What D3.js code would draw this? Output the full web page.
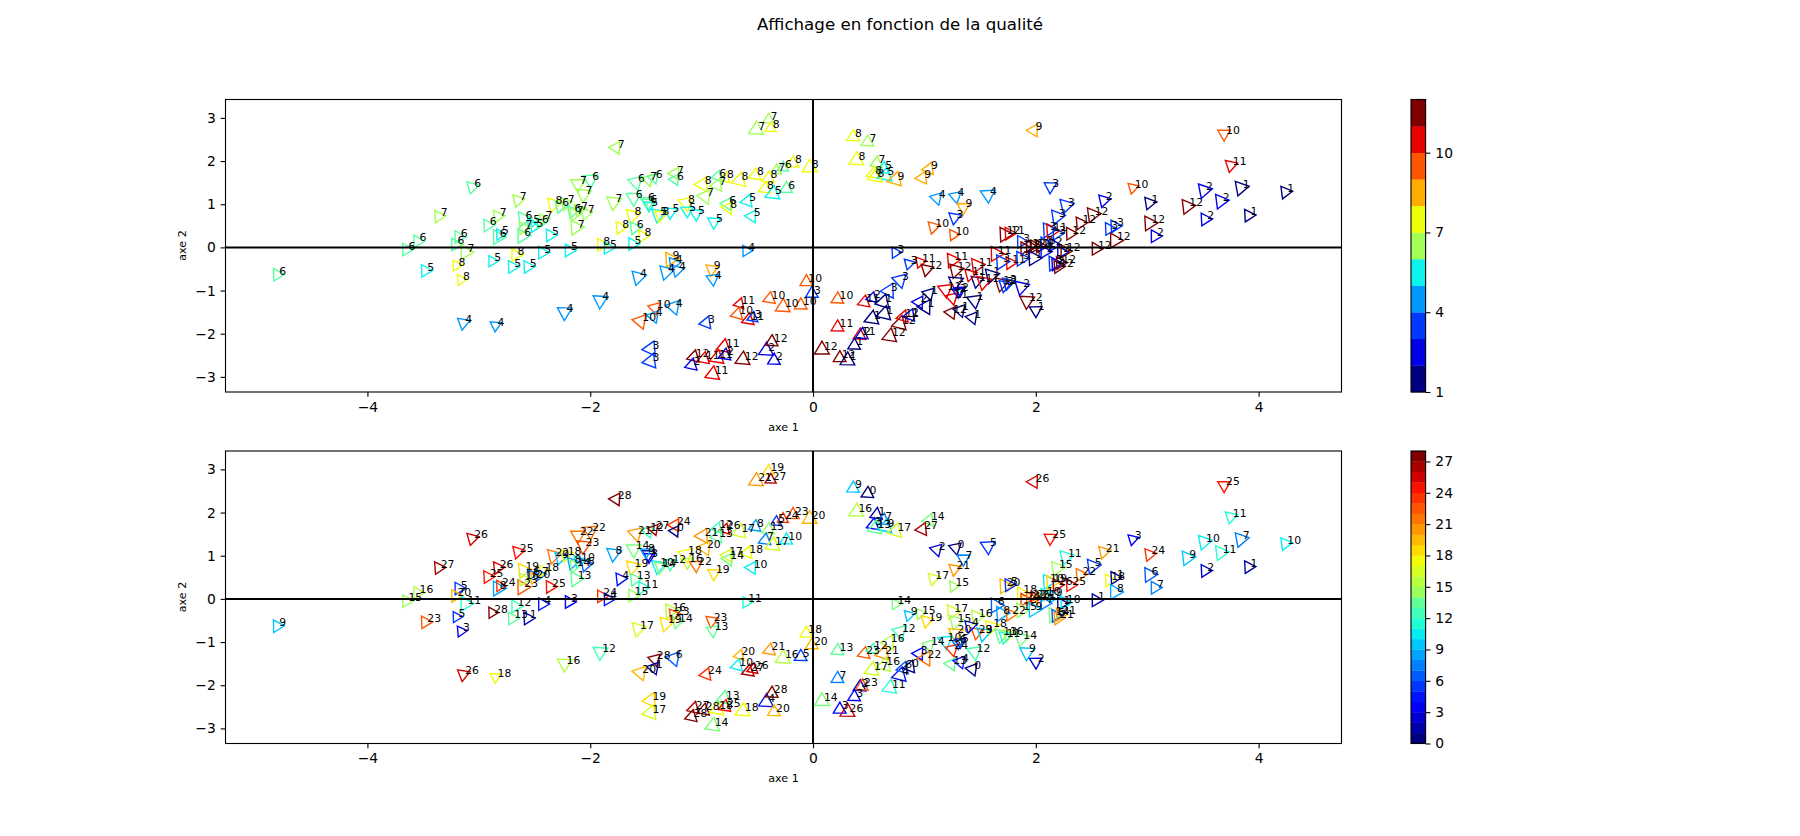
<!DOCTYPE html>
<html lang="fr">
<head>
    <meta charset="UTF-8">
    <title>Affichage en fonction de la qualité</title>
    <script src="https://cdn.jsdelivr.net/npm/d3@7"></script>
    <style>
        html, body { margin: 0; padding: 0; background: #fff; }
        svg { display: block; }
        text { font-family: "DejaVu Sans", sans-serif; fill: #000; }
        .tick text { font-size: 13.89px; }
        .tick line { stroke: #000; stroke-width: 1.11px; }
        .frame { fill: none; stroke: #000; stroke-width: 1.11px; }
        .zero { stroke: #000; stroke-width: 2px; }
        .marker { fill: none; stroke-width: 1.39px; }
        .label { font-size: 10.8px; }
        .axis-title { font-size: 11.1px; }
    </style>
</head>
<body>
    <script>
        // every row below holds 10 individuals, same order in all the arrays
        const axis1 = [
            -4.81,-3.65,-3.55,-3.48,-3.36,-3.06,-3.18,-3.21,-3.12,-3.20,
            -3.16,-3.14,-2.85,-2.88,-2.70,-2.92,-2.83,-2.83,-2.81,-2.65,
            -2.56,-2.67,-2.43,-2.19,-1.90,-1.84,-2.36,-2.60,-2.53,-2.42,
            -2.50,-2.61,-2.60,-2.45,-0.40,-0.51,-0.38,-1.77,-0.27,-0.33,
            -0.18,-0.03,-0.40,-0.52,-0.66,-0.43,-0.36,-0.24,-0.79,-0.86,
            -0.86,-0.99,-0.97,-0.77,-0.76,-0.59,-0.55,-0.89,-1.14,-1.13,
            -1.05,-1.28,-1.39,-1.37,-1.48,-1.47,-1.50,-1.61,-1.79,-1.62,
            -1.60,-1.53,-1.62,-1.73,-1.59,-1.48,-1.43,-1.24,-1.24,-2.11,
            -2.00,-2.06,-2.33,-2.27,-2.22,-2.16,-2.10,-2.14,-2.04,-2.13,
            -0.60,-1.28,-1.25,-1.22,-1.32,-1.57,-0.91,-0.90,-1.91,-2.23,
            -1.42,-1.43,-1.25,-1.55,-0.96,-0.66,-0.68,-0.58,-0.54,-0.39,
            -0.27,-0.11,-0.06,-0.01,-1.46,-1.46,-1.07,-1.09,-0.98,-0.86,
            -0.80,-0.79,-0.90,-0.63,-0.42,-0.37,-0.35,0.08,0.22,0.36,
            0.49,0.39,0.57,0.54,0.63,0.65,0.56,0.74,1.04,0.98,
            1.98,2.13,1.11,1.28,1.57,1.35,1.27,1.08,1.26,0.74,
            0.86,0.96,1.02,0.78,0.68,0.46,0.53,0.63,0.64,0.53,
            0.42,0.44,0.37,0.24,0.31,0.22,0.69,0.78,0.81,0.87,
            0.95,1.04,1.01,1.24,1.32,1.43,1.45,1.92,2.00,1.25,
            1.28,1.28,1.19,1.25,1.30,1.32,1.47,1.47,1.41,1.60,
            1.53,1.64,1.69,1.77,1.69,1.75,1.87,1.72,1.72,1.76,
            2.11,2.14,2.19,2.27,2.31,2.19,2.40,2.61,2.51,2.87,
            3.02,3.36,3.02,3.07,2.66,2.71,2.71,2.54,3.51,3.66,
            3.52,3.84,3.91,4.24,3.69,3.75,1.87,1.90,1.95,1.99,
            2.04,2.08,2.16,1.87,1.98,2.08,2.23,2.26,2.16,2.18,
            2.22,2.20
        ];
        const axis2 = [
            -0.63,-0.05,0.14,-0.54,0.72,1.40,0.24,0.07,-0.11,-0.42,
            -0.75,-1.75,-1.81,-0.32,-0.45,0.51,0.72,0.24,0.30,1.09,
            -0.45,-0.17,-0.12,-0.07,0.06,-0.01,0.28,0.66,0.56,0.65,
            0.48,0.27,0.45,0.56,2.96,2.73,2.76,2.31,1.85,1.78,
            1.95,1.85,1.60,1.67,1.55,1.36,1.24,1.36,1.61,1.64,
            1.44,1.46,1.18,1.01,0.92,1.07,0.72,0.59,1.03,0.85,
            0.78,0.82,0.76,0.74,1.03,0.97,1.08,1.15,1.05,0.74,
            0.45,0.26,0.08,0.46,1.51,1.57,1.61,1.71,1.57,1.47,
            1.57,1.23,1.00,0.95,1.02,0.83,0.87,0.77,0.79,0.46,
            -0.08,-0.28,-0.37,-0.53,-0.57,-0.69,-0.51,-0.73,-1.23,-1.50,
            -1.40,-1.60,-1.38,-1.71,-1.75,-1.31,-1.55,-1.68,-1.63,-1.19,
            -1.38,-1.34,-0.80,-1.07,-2.35,-2.64,-2.54,-2.73,-2.58,-2.56,
            -2.31,-2.50,-2.94,-2.60,-2.39,-2.19,-2.62,-2.37,-1.20,2.56,
            2.44,2.02,1.95,1.71,1.82,1.67,1.64,1.57,1.82,1.61,
            2.71,1.41,1.14,1.18,1.22,0.93,0.69,0.47,0.29,-0.12,
            -0.38,-0.34,-0.51,-0.76,-1.01,-1.27,-1.17,-1.27,-1.54,-1.65,
            -2.04,-2.02,-2.27,-2.56,-2.62,-1.85,-2.06,-1.77,-1.61,-1.58,
            -1.27,-1.07,-1.38,-1.51,-1.46,-1.63,-1.23,-1.24,-1.46,-0.30,
            -0.53,-0.80,-0.98,-1.17,-1.03,-1.00,-0.42,-0.78,-0.63,-0.65,
            -0.80,-0.15,-0.34,-0.36,-0.84,-0.83,-0.92,-0.88,0.30,0.32,
            0.40,0.38,0.71,0.97,0.32,0.32,0.56,1.09,0.76,1.38,
            1.03,0.95,0.56,0.26,0.43,0.49,0.16,-0.03,1.32,1.07,
            0.65,1.38,0.74,1.28,2.63,1.90,0.13,-0.02,0.02,0.02,
            0.02,0.09,0.06,-0.26,-0.25,-0.10,-0.11,-0.09,-0.37,-0.39,
            -0.36,-0.45
        ];
        const months = [
            6,6,6,5,7,6,6,6,7,8,
            8,4,4,5,5,6,7,6,5,7,
            5,8,5,5,8,5,5,6,5,7,
            5,6,7,6,7,7,8,7,6,7,
            8,8,8,8,8,8,5,6,8,6,
            7,8,7,6,8,5,5,5,8,5,
            5,5,5,8,6,5,6,6,7,8,
            6,8,5,8,6,7,6,7,6,7,
            6,7,8,6,7,6,7,7,7,7,
            4,9,4,4,4,4,9,4,4,4,
            10,4,4,10,3,11,10,11,3,10,
            10,10,10,3,3,3,12,2,11,11,
            11,2,11,12,2,12,2,12,10,8,
            7,8,7,8,5,5,8,9,9,9,
            9,3,4,4,4,9,3,10,10,3,
            3,11,12,3,3,11,2,1,1,1,
            11,2,1,12,1,11,12,12,11,2,
            2,1,1,12,1,1,1,12,1,11,
            12,1,11,11,2,2,11,1,11,1,
            11,11,3,11,12,3,2,3,12,11,
            3,11,3,3,12,3,12,2,12,10,
            1,12,12,2,3,3,12,12,2,2,
            2,1,1,1,10,11,3,12,12,12,
            12,3,2,3,1,2,2,12,3,2,
            12,12
        ];
        const values = [
            9,15,16,23,27,26,5,20,11,5,
            3,26,18,28,13,25,26,8,24,25,
            1,12,4,3,24,4,25,19,6,18,
            20,23,16,7,19,21,27,28,24,5,
            23,20,15,8,17,7,17,10,26,12,
            13,21,20,17,14,18,10,19,18,16,
            22,12,10,14,1,3,8,14,8,19,
            13,11,15,4,21,12,27,24,0,22,
            22,23,22,9,18,8,10,14,6,13,
            11,16,23,14,19,17,23,13,12,16,
            28,1,6,20,24,20,10,27,26,21,
            16,5,18,20,19,17,27,28,28,18,
            13,25,14,18,4,28,20,14,13,9,
            0,16,1,3,7,9,13,17,14,27,
            26,25,2,0,5,7,21,17,15,14,
            9,15,19,12,16,23,12,21,16,17,
            2,23,3,3,26,7,11,4,6,0,
            3,14,22,13,4,0,12,9,2,17,
            15,20,10,24,6,5,16,23,4,18,
            9,6,8,22,13,16,14,11,20,5,
            10,19,15,11,25,26,22,21,5,3,
            24,9,6,7,18,1,8,1,10,11,
            2,7,1,10,25,11,18,24,22,26,
            21,10,9,15,9,7,1,10,14,6,
            21,21
        ];
        // marker area, read by eye from each triangle
        const S = 85, M = 110, L = 150;
        const areas = [
            M,M,M,M,M,M,M,M,L,S,
            S,M,S,S,M,M,M,L,S,M,
            M,M,M,M,M,M,M,L,S,S,
            S,L,M,S,S,L,S,M,S,S,
            M,L,M,M,L,M,L,M,S,S,
            M,L,L,M,M,M,M,M,L,M,
            M,M,L,M,M,S,S,L,L,L,
            M,M,M,M,L,M,S,M,S,L,
            L,L,L,M,M,M,M,M,M,L,
            S,L,M,M,L,L,M,M,L,L,
            M,M,L,L,M,S,M,M,S,M,
            L,M,M,M,L,L,M,M,M,L,
            L,M,L,L,L,M,M,L,M,M,
            M,L,M,M,M,L,L,L,M,M,
            M,M,M,M,L,M,M,M,S,S,
            S,S,M,L,L,M,S,L,L,L,
            M,M,M,M,L,M,L,L,M,M,
            M,M,L,M,M,M,L,L,M,L,
            L,L,L,M,S,S,L,M,M,L,
            L,L,L,M,L,M,L,M,L,M,
            L,L,L,L,M,M,M,M,L,S,
            M,L,L,M,M,M,L,M,L,L,
            M,L,M,M,M,M,M,M,M,M,
            M,M,M,L,L,M,M,M,L,M,
            M,M
        ];

        const xTicks = [-4, -2, 0, 2, 4];
        const yTicks = [-3, -2, -1, 0, 1, 2, 3];
        const monthTicks = [1, 4, 7, 10];
        const valueTicks = [0, 3, 6, 9, 12, 15, 18, 21, 24, 27];

        const width = 1800, height = 836;
        const xDomain = [-5.274, 4.744];
        const yDomain = [-3.35, 3.426];
        const dpi = 100 / 72;

        // matplotlib's jet, one scale per channel
        const jetR = d3.scaleLinear().domain([0, 0.35, 0.66, 0.89, 1]).range([0, 0, 1, 1, 0.5]).clamp(true);
        const jetG = d3.scaleLinear().domain([0, 0.125, 0.375, 0.64, 0.91, 1]).range([0, 0, 1, 1, 0, 0]).clamp(true);
        const jetB = d3.scaleLinear().domain([0, 0.11, 0.34, 0.65, 1]).range([0.5, 1, 1, 0, 0]).clamp(true);
        const jet = (t) => d3.rgb(jetR(t) * 255, jetG(t) * 255, jetB(t) * 255).formatHex();

        const svg = d3.select("body").append("svg")
            .attr("width", width)
            .attr("height", height);

        svg.append("text")
            .attr("x", 900)
            .attr("y", 30)
            .attr("text-anchor", "middle")
            .style("font-size", "16.67px")
            .text("Affichage en fonction de la qualité");

        const points = axis1.map((x, i) => ({
            x, y: axis2[i], month: months[i], value: values[i], area: areas[i]
        }));

        function drawPanel(top, labelKey, vMin, vMax, cbTicks) {
            const bottom = top + 292.5;
            const xScale = d3.scaleLinear().domain(xDomain).range([225.5, 1341.5]);
            const yScale = d3.scaleLinear().domain(yDomain).range([bottom, top]);
            const levels = vMax - vMin + 1;
            const color = (v) => jet((v - vMin) / (levels - 1));

            const g = svg.append("g");

            // markers first, the zero lines and the labels go above them
            g.selectAll("path.marker")
                .data(points)
                .enter().append("path")
                .attr("class", "marker")
                .attr("d", d => {
                    const r = 0.5 * Math.sqrt(d.area) * dpi;
                    return d3.symbol().type(d3.symbolTriangle).size(r * r * 3 * Math.sqrt(3) / 4)();
                })
                .attr("transform", d => {
                    // orientation follows the share of the point on axis 2
                    const share = d.y * d.y / (d.x * d.x + d.y * d.y);
                    return `translate(${xScale(d.x)},${yScale(d.y)}) rotate(${-(30 + 90 * share)})`;
                })
                .attr("stroke", d => color(d[labelKey]));

            g.append("line").attr("class", "zero")
                .attr("x1", xScale.range()[0]).attr("x2", xScale.range()[1])
                .attr("y1", yScale(0)).attr("y2", yScale(0));
            g.append("line").attr("class", "zero")
                .attr("x1", xScale(0)).attr("x2", xScale(0))
                .attr("y1", bottom).attr("y2", top);

            g.selectAll("text.label")
                .data(points)
                .enter().append("text")
                .attr("class", "label")
                .attr("x", d => xScale(d.x) + 2)
                .attr("y", d => yScale(d.y))
                .text(d => d[labelKey]);

            const xAxis = g.append("g")
                .attr("transform", `translate(0,${bottom})`)
                .call(d3.axisBottom(xScale).tickValues(xTicks).tickSize(4.86).tickPadding(4.86));
            const yAxis = g.append("g")
                .attr("transform", "translate(225.5,0)")
                .call(d3.axisLeft(yScale).tickValues(yTicks).tickFormat(d3.format("d")).tickSize(4.86).tickPadding(4.86));
            xAxis.select(".domain").remove();
            yAxis.select(".domain").remove();

            g.append("rect").attr("class", "frame")
                .attr("x", 225.5).attr("y", top)
                .attr("width", 1116).attr("height", 292.5);

            g.append("text").attr("class", "axis-title")
                .attr("x", 783.5).attr("y", bottom + 38.5)
                .attr("text-anchor", "middle")
                .text("axe 1");
            g.append("text").attr("class", "axis-title")
                .attr("transform", `translate(186,${top + 146}) rotate(-90)`)
                .attr("text-anchor", "middle")
                .text("axe 2");

            // colour bar: the level list has one more entry than the bar has steps
            const cbScale = d3.scaleLinear().domain([vMin, vMax]).range([bottom, top]);
            const steps = d3.range(levels - 1);
            g.selectAll("rect.step")
                .data(steps)
                .enter().append("rect")
                .attr("class", "step")
                .attr("x", 1411)
                .attr("width", 14.6)
                .attr("y", i => cbScale(vMin + i + 1))
                .attr("height", i => cbScale(vMin + i) - cbScale(vMin + i + 1) + 0.3)
                .attr("fill", i => jet(Math.floor((i + 0.5) / (levels - 1) * levels) / (levels - 1)));

            const cbAxis = g.append("g")
                .attr("transform", "translate(1425.6,0)")
                .call(d3.axisRight(cbScale).tickValues(cbTicks).tickSize(4.86).tickPadding(4.86));
            cbAxis.select(".domain").remove();

            g.append("rect").attr("class", "frame")
                .attr("x", 1411).attr("y", top)
                .attr("width", 14.6).attr("height", 292.5);
        }

        drawPanel(99.5, "month", 1, 12, monthTicks);
        drawPanel(451, "value", 0, 28, valueTicks);
    </script>
</body>
</html>
